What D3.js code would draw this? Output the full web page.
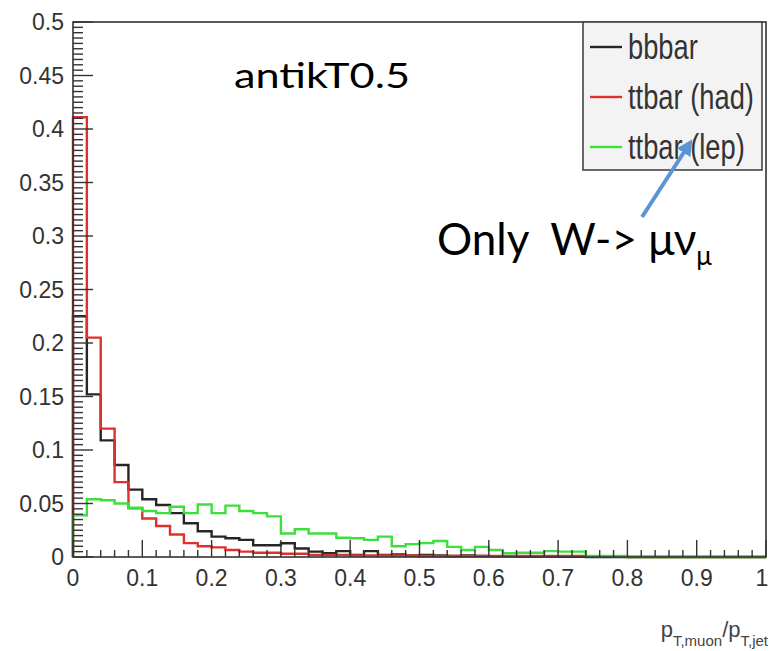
<!DOCTYPE html>
<html>
<head>
<meta charset="utf-8">
<script src="https://cdn.jsdelivr.net/npm/d3@7"></script>
<style>
  html, body { margin: 0; padding: 0; background: #fff; }
  svg { display: block; }
</style>
</head>
<body>
<div class="chart"></div>
<script>
// histogram contents, 50 bins of width 0.02 on [0,1]
const binWidth = 0.02;
const bbbar = [
  0.225, 0.152, 0.109, 0.086, 0.063, 0.054, 0.0486, 0.041, 0.0315, 0.024,
  0.019, 0.0175, 0.016, 0.011, 0.011, 0.0128, 0.008, 0.005, 0.0035, 0.0055,
  0.002, 0.0055, 0.002, 0.0025, 0.0015, 0.002, 0.0015, 0.001, 0.0015, 0.001,
  0.0008, 0.0008, 0.0005, 0.0005, 0.0005, 0.0003, 0.0003, 0, 0, 0,
  0, 0, 0, 0, 0, 0, 0, 0, 0, 0
];
const ttbarHad = [
  0.411, 0.205, 0.120, 0.070, 0.0455, 0.036, 0.029, 0.021, 0.013, 0.010,
  0.009, 0.0065, 0.005, 0.004, 0.004, 0.003, 0.003, 0.002, 0.002, 0.002,
  0.0015, 0.0015, 0.0015, 0.0015, 0.0015, 0.001, 0.001, 0.001, 0.001, 0.001,
  0.001, 0.001, 0.001, 0.001, 0.001, 0.001, 0.001, 0.0005, 0.0005, 0.0005,
  0, 0, 0, 0, 0, 0, 0, 0, 0, 0
];
const ttbarLep = [
  0.039, 0.054, 0.053, 0.050, 0.046, 0.043, 0.041, 0.047, 0.041, 0.049,
  0.041, 0.048, 0.043, 0.041, 0.038, 0.022, 0.026, 0.022, 0.022, 0.018,
  0.0175, 0.016, 0.019, 0.010, 0.012, 0.013, 0.015, 0.0095, 0.0065, 0.0095,
  0.0065, 0.0035, 0.004, 0.004, 0.0055, 0.005, 0.005, 0.001, 0.001, 0.001,
  0, 0, 0, 0, 0, 0, 0, 0, 0, 0
];
const seriesNames = ['bbbar', 'ttbar (had)', 'ttbar (lep)'];
const seriesColors = ['#262626', '#e0302c', '#3ddf3d'];
const yTickLabels = ['0', '0.05', '0.1', '0.15', '0.2', '0.25', '0.3', '0.35', '0.4', '0.45', '0.5'];
const xTickLabels = ['0', '0.1', '0.2', '0.3', '0.4', '0.5', '0.6', '0.7', '0.8', '0.9', '1'];

const width = 770, height = 651;
const margin = { top: 22, right: 4, bottom: 94, left: 73 };

const svg = d3.select('.chart')
  .append('svg')
  .attr('width', width)
  .attr('height', height);

const x = d3.scaleLinear().domain([0, 1]).range([margin.left, width - margin.right]);
const y = d3.scaleLinear().domain([0, 0.5]).range([height - margin.bottom, margin.top]);

// step outline like ROOT "HIST"
function stepPath(vals) {
  const p = d3.path();
  p.moveTo(x(0), y(0));
  vals.forEach((v, i) => {
    p.lineTo(x(i * binWidth), y(v));
    p.lineTo(x((i + 1) * binWidth), y(v));
  });
  p.lineTo(x(1), y(0));
  return p.toString();
}

[bbbar, ttbarHad, ttbarLep].forEach((vals, i) => {
  svg.append('path')
    .attr('d', stepPath(vals))
    .attr('fill', 'none')
    .attr('stroke', seriesColors[i])
    .attr('stroke-width', 2.4)
    .attr('stroke-linejoin', 'miter');
});

// frame
svg.append('rect')
  .attr('x', x(0)).attr('y', y(0.5))
  .attr('width', x(1) - x(0)).attr('height', y(0) - y(0.5))
  .attr('fill', 'none')
  .attr('stroke', '#333')
  .attr('stroke-width', 1.6);

// y ticks (inside frame)
const yMinor = d3.range(0, 0.5001, 0.005);
svg.append('g').selectAll('line')
  .data(yMinor)
  .enter()
  .append('line')
  .attr('x1', x(0))
  .attr('x2', (d, i) => x(0) + (i % 10 === 0 ? 20 : 10))
  .attr('y1', d => y(d))
  .attr('y2', d => y(d))
  .attr('stroke', '#333')
  .attr('stroke-width', 1.4);

svg.append('g').selectAll('text')
  .data(yTickLabels)
  .enter()
  .append('text')
  .attr('x', x(0) - 9)
  .attr('y', d => y(+d))
  .attr('dy', '0.36em')
  .attr('text-anchor', 'end')
  .attr('font-family', 'Liberation Sans, Arial, sans-serif')
  .attr('font-size', 23)
  .attr('fill', '#333')
  .text(d => d);

// x ticks (inside frame)
const xMinor = d3.range(0, 1.0001, 0.02);
svg.append('g').selectAll('line')
  .data(xMinor)
  .enter()
  .append('line')
  .attr('x1', d => x(d))
  .attr('x2', d => x(d))
  .attr('y1', y(0))
  .attr('y2', (d, i) => y(0) - (i % 5 === 0 ? 17 : 7))
  .attr('stroke', '#333')
  .attr('stroke-width', 1.4);

svg.append('g').selectAll('text')
  .data(xTickLabels)
  .enter()
  .append('text')
  .attr('x', d => Math.min(x(+d), width - 8))
  .attr('y', y(0) + 21)
  .attr('dy', '0.36em')
  .attr('text-anchor', 'middle')
  .attr('font-family', 'Liberation Sans, Arial, sans-serif')
  .attr('font-size', 23)
  .attr('fill', '#333')
  .text(d => d);

// x axis title
const xt = svg.append('text')
  .attr('x', width - 2)
  .attr('y', 637)
  .attr('text-anchor', 'end')
  .attr('font-family', 'Liberation Sans, Arial, sans-serif')
  .attr('font-size', 22)
  .attr('fill', '#444');
xt.append('tspan').text('p');
xt.append('tspan').attr('font-size', 15).attr('dy', 9).text('T,muon');
xt.append('tspan').attr('dy', -9).text('/p');
xt.append('tspan').attr('font-size', 15).attr('dy', 9).text('T,jet');

// legend
const lg = svg.append('g');
lg.append('rect')
  .attr('x', 583).attr('y', 22)
  .attr('width', 179).attr('height', 148)
  .attr('fill', '#f3f3f3')
  .attr('stroke', '#444')
  .attr('stroke-width', 1.6);

seriesNames.forEach((name, i) => {
  const cy = 47 + i * 50;
  lg.append('line')
    .attr('x1', 590).attr('x2', 622)
    .attr('y1', cy).attr('y2', cy)
    .attr('stroke', seriesColors[i])
    .attr('stroke-width', 2.4);
  lg.append('text')
    .attr('transform', `translate(628,${cy + 12}) scale(0.78,1)`)
    .attr('font-family', 'Liberation Sans, Arial, sans-serif')
    .attr('font-size', 35)
    .attr('fill', '#333')
    .text(name);
});

// annotations
svg.append('text')
  .attr('x', 234)
  .attr('y', 88)
  .attr('font-family', 'Lato, Open Sans, sans-serif')
  .attr('font-size', 35)
  .attr('textLength', 176)
  .attr('lengthAdjust', 'spacingAndGlyphs')
  .attr('fill', '#000')
  .text('antikT0.5');

const note = svg.append('text')
  .attr('x', 437)
  .attr('y', 255)
  .attr('font-family', 'Lato, Open Sans, sans-serif')
  .attr('font-size', 44)
  .attr('fill', '#000');
note.append('tspan').text('Only\u00a0 W-> μν');
note.append('tspan').attr('font-size', 26).attr('dy', 10).text('μ');

svg.append('defs').append('marker')
  .attr('id', 'arrow')
  .attr('viewBox', '0 0 10 10')
  .attr('refX', 5).attr('refY', 5)
  .attr('markerWidth', 4).attr('markerHeight', 4)
  .attr('orient', 'auto')
  .append('path')
  .attr('d', 'M0,0 L10,5 L0,10 z')
  .attr('fill', '#5b93d3');

svg.append('line')
  .attr('x1', 642).attr('y1', 217)
  .attr('x2', 688).attr('y2', 146)
  .attr('stroke', '#5b93d3')
  .attr('stroke-width', 4)
  .attr('marker-end', 'url(#arrow)');
</script>
</body>
</html>
